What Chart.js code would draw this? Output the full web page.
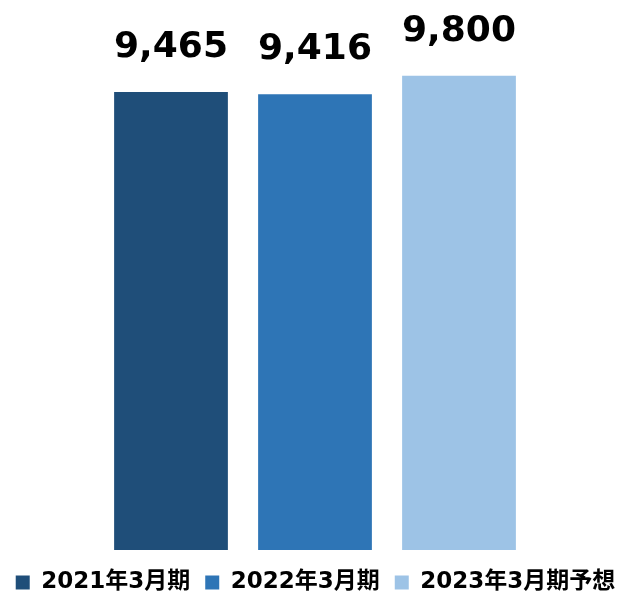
<!DOCTYPE html>
<html>
<head>
<meta charset="utf-8">
<script src="https://cdn.jsdelivr.net/npm/chart.js@4"></script>
<style>
  html, body { margin: 0; padding: 0; background: #fff; }
  .wrap { width: 631px; height: 591px; }
</style>
</head>
<body>
<div class="wrap"><canvas id="myChart"></canvas></div>
<script>
const categories = ['2021年3月期', '2022年3月期', '2023年3月期予想'];
const values = [9465, 9416, 9800];
const colors = ['#1F4E79', '#2E75B6', '#9DC3E6'];

const fontFamily = '"DejaVu Sans", "Noto Sans CJK JP", sans-serif';

// one dataset per bar so the legend gets three entries
const datasets = categories.map((name, i) => ({
  label: name,
  data: values.map((v, j) => (j === i ? v : null)),
  backgroundColor: colors[i],
  borderWidth: 0,
  categoryPercentage: 0.79,
  barPercentage: 1,
  grouped: false,
}));

// draw value labels above the bars
const valueLabels = {
  id: 'valueLabels',
  afterDatasetsDraw(chart) {
    const ctx = chart.ctx;
    ctx.save();
    ctx.font = 'bold 36px ' + fontFamily;
    ctx.fillStyle = '#000';
    ctx.textAlign = 'center';
    ctx.textBaseline = 'alphabetic';
    chart.data.datasets.forEach((ds, i) => {
      const bar = chart.getDatasetMeta(i).data[i];
      ctx.fillText(values[i].toLocaleString('en-US'), bar.x, bar.y - 35);
    });
    ctx.restore();
  },
};

// invisible axes used only as margins (keeps the legend full width)
function spacer(position, size) {
  const horizontal = position === 'bottom';
  return {
    position,
    display: true,
    ticks: { display: false },
    grid: { display: false },
    border: { display: false },
    afterFit: scale => {
      if (horizontal) scale.height = size;
      else scale.width = size;
    },
  };
}

new Chart(document.getElementById('myChart'), {
  type: 'bar',
  data: { labels: categories, datasets },
  options: {
    responsive: true,
    maintainAspectRatio: false,
    animation: false,
    layout: { padding: { top: 66, bottom: -13 } },
    plugins: {
      legend: {
        position: 'bottom',
        labels: {
          boxWidth: 14,
          boxHeight: 14,
          padding: 15,
          color: '#000',
          font: { family: fontFamily, size: 23, weight: 'bold' },
        },
      },
      tooltip: { enabled: false },
    },
    scales: {
      x: spacer('bottom', 6),
      y: { ...spacer('left', 99), min: 0, max: 10000 },
      y2: spacer('right', 100),
    },
  },
  plugins: [valueLabels],
});
</script>
</body>
</html>
